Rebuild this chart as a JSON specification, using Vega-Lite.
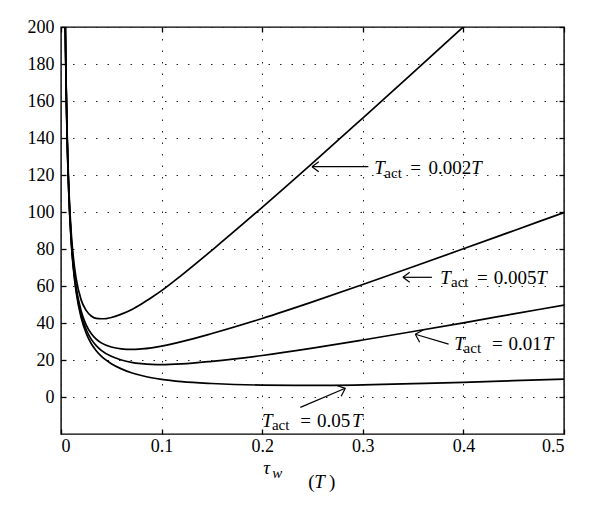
{
  "$schema": "https://vega.github.io/schema/vega-lite/v6.json",
  "width": 503,
  "height": 407,
  "autosize": "none",
  "padding": {"left": 61, "top": 27, "right": 36, "bottom": 79},
  "background": "white",
  "config": {
    "view": {"stroke": "#000", "strokeWidth": 1.4},
    "font": "Liberation Serif",
    "text": {"font": "Liberation Serif", "color": "#000"}
  },
  "datasets": {
    "curves": [
      {"t": 0.004, "v": 214.5, "s": "0.002T"}, {"t": 0.0043, "v": 200, "s": "0.002T"}, {"t": 0.005, "v": 172.5, "s": "0.002T"}, {"t": 0.006, "v": 144.7, "s": "0.002T"}, {"t": 0.007, "v": 124.9, "s": "0.002T"}, {"t": 0.008, "v": 110.3, "s": "0.002T"}, {"t": 0.01, "v": 90, "s": "0.002T"}, {"t": 0.012, "v": 76.8, "s": "0.002T"}, {"t": 0.015, "v": 64.2, "s": "0.002T"}, {"t": 0.02, "v": 52.5, "s": "0.002T"}, {"t": 0.025, "v": 46.8, "s": "0.002T"}, {"t": 0.03, "v": 43.8, "s": "0.002T"}, {"t": 0.035, "v": 42.5, "s": "0.002T"}, {"t": 0.04, "v": 42.3, "s": "0.002T"}, {"t": 0.045, "v": 42.4, "s": "0.002T"}, {"t": 0.05, "v": 43, "s": "0.002T"}, {"t": 0.06, "v": 44.8, "s": "0.002T"}, {"t": 0.07, "v": 47.2, "s": "0.002T"}, {"t": 0.08, "v": 50.3, "s": "0.002T"}, {"t": 0.09, "v": 53.8, "s": "0.002T"}, {"t": 0.1, "v": 57.5, "s": "0.002T"}, {"t": 0.12, "v": 65.9, "s": "0.002T"}, {"t": 0.15, "v": 79.3, "s": "0.002T"}, {"t": 0.2, "v": 102.5, "s": "0.002T"}, {"t": 0.25, "v": 126.4, "s": "0.002T"}, {"t": 0.3, "v": 150.8, "s": "0.002T"}, {"t": 0.35, "v": 175.4, "s": "0.002T"}, {"t": 0.4, "v": 200.1, "s": "0.002T"}, {"t": 0.41, "v": 205, "s": "0.002T"},
      {"t": 0.004, "v": 213.3, "s": "0.005T"}, {"t": 0.0043, "v": 198.6, "s": "0.005T"}, {"t": 0.005, "v": 171, "s": "0.005T"}, {"t": 0.006, "v": 142.9, "s": "0.005T"}, {"t": 0.007, "v": 122.8, "s": "0.005T"}, {"t": 0.008, "v": 107.9, "s": "0.005T"}, {"t": 0.01, "v": 87, "s": "0.005T"}, {"t": 0.012, "v": 73.2, "s": "0.005T"}, {"t": 0.015, "v": 59.7, "s": "0.005T"}, {"t": 0.02, "v": 46.5, "s": "0.005T"}, {"t": 0.025, "v": 39, "s": "0.005T"}, {"t": 0.03, "v": 34.3, "s": "0.005T"}, {"t": 0.035, "v": 31.3, "s": "0.005T"}, {"t": 0.04, "v": 29.25, "s": "0.005T"}, {"t": 0.05, "v": 27, "s": "0.005T"}, {"t": 0.06, "v": 26, "s": "0.005T"}, {"t": 0.07, "v": 25.7, "s": "0.005T"}, {"t": 0.08, "v": 26, "s": "0.005T"}, {"t": 0.09, "v": 26.6, "s": "0.005T"}, {"t": 0.1, "v": 27.5, "s": "0.005T"}, {"t": 0.12, "v": 29.9, "s": "0.005T"}, {"t": 0.15, "v": 34.3, "s": "0.005T"}, {"t": 0.2, "v": 42.45, "s": "0.005T"}, {"t": 0.25, "v": 51.4, "s": "0.005T"}, {"t": 0.3, "v": 60.8, "s": "0.005T"}, {"t": 0.35, "v": 70.4, "s": "0.005T"}, {"t": 0.4, "v": 80.1, "s": "0.005T"}, {"t": 0.45, "v": 89.9, "s": "0.005T"}, {"t": 0.5, "v": 99.7, "s": "0.005T"},
      {"t": 0.004, "v": 212.9, "s": "0.01T"}, {"t": 0.0043, "v": 198.1, "s": "0.01T"}, {"t": 0.005, "v": 170.5, "s": "0.01T"}, {"t": 0.006, "v": 142.3, "s": "0.01T"}, {"t": 0.007, "v": 122.1, "s": "0.01T"}, {"t": 0.008, "v": 107.1, "s": "0.01T"}, {"t": 0.01, "v": 86, "s": "0.01T"}, {"t": 0.012, "v": 72, "s": "0.01T"}, {"t": 0.015, "v": 58.2, "s": "0.01T"}, {"t": 0.02, "v": 44.5, "s": "0.01T"}, {"t": 0.025, "v": 36.5, "s": "0.01T"}, {"t": 0.03, "v": 31.3, "s": "0.01T"}, {"t": 0.035, "v": 27.8, "s": "0.01T"}, {"t": 0.04, "v": 25.25, "s": "0.01T"}, {"t": 0.05, "v": 22, "s": "0.01T"}, {"t": 0.06, "v": 20, "s": "0.01T"}, {"t": 0.07, "v": 18.7, "s": "0.01T"}, {"t": 0.08, "v": 18, "s": "0.01T"}, {"t": 0.09, "v": 17.6, "s": "0.01T"}, {"t": 0.1, "v": 17.5, "s": "0.01T"}, {"t": 0.12, "v": 17.9, "s": "0.01T"}, {"t": 0.15, "v": 19.3, "s": "0.01T"}, {"t": 0.2, "v": 22.45, "s": "0.01T"}, {"t": 0.25, "v": 26.4, "s": "0.01T"}, {"t": 0.3, "v": 30.8, "s": "0.01T"}, {"t": 0.35, "v": 35.4, "s": "0.01T"}, {"t": 0.4, "v": 40.1, "s": "0.01T"}, {"t": 0.45, "v": 44.9, "s": "0.01T"}, {"t": 0.5, "v": 49.7, "s": "0.01T"},
      {"t": 0.004, "v": 212.6, "s": "0.05T"}, {"t": 0.0043, "v": 197.8, "s": "0.05T"}, {"t": 0.005, "v": 170.1, "s": "0.05T"}, {"t": 0.006, "v": 141.8, "s": "0.05T"}, {"t": 0.007, "v": 121.5, "s": "0.05T"}, {"t": 0.008, "v": 106.5, "s": "0.05T"}, {"t": 0.01, "v": 85.2, "s": "0.05T"}, {"t": 0.012, "v": 71, "s": "0.05T"}, {"t": 0.015, "v": 57, "s": "0.05T"}, {"t": 0.02, "v": 42.9, "s": "0.05T"}, {"t": 0.025, "v": 34.5, "s": "0.05T"}, {"t": 0.03, "v": 28.9, "s": "0.05T"}, {"t": 0.035, "v": 25, "s": "0.05T"}, {"t": 0.04, "v": 22.05, "s": "0.05T"}, {"t": 0.05, "v": 18, "s": "0.05T"}, {"t": 0.06, "v": 15.2, "s": "0.05T"}, {"t": 0.07, "v": 13.1, "s": "0.05T"}, {"t": 0.08, "v": 11.6, "s": "0.05T"}, {"t": 0.09, "v": 10.4, "s": "0.05T"}, {"t": 0.1, "v": 9.5, "s": "0.05T"}, {"t": 0.12, "v": 8.3, "s": "0.05T"}, {"t": 0.15, "v": 7.3, "s": "0.05T"}, {"t": 0.2, "v": 6.45, "s": "0.05T"}, {"t": 0.25, "v": 6.3, "s": "0.05T"}, {"t": 0.3, "v": 6.6, "s": "0.05T"}, {"t": 0.35, "v": 7.2, "s": "0.05T"}, {"t": 0.4, "v": 7.9, "s": "0.05T"}, {"t": 0.45, "v": 8.8, "s": "0.05T"}, {"t": 0.5, "v": 9.7, "s": "0.05T"}
    ],
    "arrows": [
      {"x": 0.3055, "y": 124.5, "x2": 0.2495, "y2": 124.5},
      {"x": 0.2495, "y": 124.5, "x2": 0.2562, "y2": 127.2},
      {"x": 0.2495, "y": 124.5, "x2": 0.2562, "y2": 121.8},
      {"x": 0.3687, "y": 64.7, "x2": 0.3399, "y2": 64.7},
      {"x": 0.3399, "y": 64.7, "x2": 0.3466, "y2": 67.4},
      {"x": 0.3399, "y": 64.7, "x2": 0.3466, "y2": 62.0},
      {"x": 0.3853, "y": 28.6, "x2": 0.3522, "y2": 33.9},
      {"x": 0.3522, "y": 33.9, "x2": 0.3565, "y2": 29.6},
      {"x": 0.3522, "y": 33.9, "x2": 0.3600, "y2": 36.2},
      {"x": 0.2379, "y": -5.6, "x2": 0.2826, "y2": 4.7},
      {"x": 0.2826, "y": 4.7, "x2": 0.2741, "y2": 6.2},
      {"x": 0.2826, "y": 4.7, "x2": 0.2785, "y2": 0.4}
    ],
    "italicMain": [
      {"x": 0.3114, "y": 120.5, "text": "T"}, {"x": 0.4078, "y": 120.5, "text": "T"},
      {"x": 0.3770, "y": 60.9, "text": "T"}, {"x": 0.4725, "y": 60.9, "text": "T"},
      {"x": 0.3910, "y": 25.4, "text": "T"}, {"x": 0.4790, "y": 25.4, "text": "T"},
      {"x": 0.1998, "y": -16.4, "text": "T"}, {"x": 0.2893, "y": -16.4, "text": "T"},
      {"x": 0.2011, "y": -41.8, "text": "τ"}, {"x": 0.2518, "y": -49.2, "text": "T"}
    ],
    "normalMain": [
      {"x": 0.3472, "y": 120.5, "text": "="}, {"x": 0.3654, "y": 120.5, "text": "0.002"},
      {"x": 0.4135, "y": 60.9, "text": "="}, {"x": 0.4301, "y": 60.9, "text": "0.005"},
      {"x": 0.4285, "y": 25.4, "text": "="}, {"x": 0.4449, "y": 25.4, "text": "0.01"},
      {"x": 0.2379, "y": -16.4, "text": "="}, {"x": 0.2545, "y": -16.4, "text": "0.05"},
      {"x": 0.2458, "y": -49.2, "text": "("},
      {"x": 0.2665, "y": -49.2, "text": ")"}
    ],
    "subs": [
      {"x": 0.3214, "y": 118.4, "text": "act"},
      {"x": 0.3877, "y": 59.5, "text": "act"},
      {"x": 0.4002, "y": 23.8, "text": "act"},
      {"x": 0.2097, "y": -17.8, "text": "act"}
    ],
    "subItalic": [
      {"x": 0.2100, "y": -43.6, "text": "w"}
    ]
  },
  "resolve": {"axis": {"x": "independent", "y": "independent"}},
  "layer": [
    {
      "data": {"name": "curves"},
      "mark": {"type": "line", "color": "#000", "strokeWidth": 1.7, "clip": true, "interpolate": "monotone"},
      "encoding": {
        "x": {"field": "t", "type": "quantitative", "scale": {"domain": [0, 0.5], "nice": false, "zero": false},
          "axis": {"orient": "bottom", "values": [0, 0.1, 0.2, 0.3, 0.4, 0.5], "format": "~g", "domain": false, "grid": true, "gridDash": [1.5, 10], "gridColor": "#222", "gridWidth": 1, "tickSize": -5, "tickColor": "#000", "tickWidth": 1.3, "labelFont": "Liberation Serif", "labelFontSize": 18, "labelColor": "#000", "labelPadding": 8, "title": null}},
        "y": {"field": "v", "type": "quantitative", "scale": {"domain": [-20, 200], "nice": false, "zero": false},
          "axis": {"orient": "left", "values": [0, 20, 40, 60, 80, 100, 120, 140, 160, 180, 200], "domain": false, "grid": true, "gridDash": [1.5, 10], "gridColor": "#222", "gridWidth": 1, "tickSize": -5, "tickColor": "#000", "tickWidth": 1.3, "labelFont": "Liberation Serif", "labelFontSize": 18, "labelColor": "#000", "labelPadding": 12, "title": null}},
        "detail": {"field": "s", "type": "nominal"}
      }
    },
    {
      "data": {"name": "arrows"},
      "mark": {"type": "rule", "color": "#000", "strokeWidth": 1.2},
      "encoding": {
        "x": {"field": "x", "type": "quantitative", "scale": {"domain": [0, 0.5], "nice": false, "zero": false},
          "axis": {"orient": "top", "values": [0, 0.1, 0.2, 0.3, 0.4, 0.5], "labels": false, "domain": false, "grid": false, "tickSize": -5, "tickColor": "#000", "tickWidth": 1.3, "title": null}},
        "y": {"field": "y", "type": "quantitative", "scale": {"domain": [-20, 200], "nice": false, "zero": false},
          "axis": {"orient": "right", "values": [0, 20, 40, 60, 80, 100, 120, 140, 160, 180, 200], "labels": false, "domain": false, "grid": false, "tickSize": -5, "tickColor": "#000", "tickWidth": 1.3, "title": null}},
        "x2": {"field": "x2"},
        "y2": {"field": "y2"}
      }
    },
    {
      "data": {"name": "italicMain"},
      "mark": {"type": "text", "font": "Liberation Serif", "fontStyle": "italic", "fontSize": 19, "align": "left", "baseline": "alphabetic", "color": "#000"},
      "encoding": {
        "x": {"field": "x", "type": "quantitative", "scale": {"domain": [0, 0.5], "nice": false, "zero": false}, "axis": null},
        "y": {"field": "y", "type": "quantitative", "scale": {"domain": [-20, 200], "nice": false, "zero": false}, "axis": null},
        "text": {"field": "text"}
      }
    },
    {
      "data": {"name": "normalMain"},
      "mark": {"type": "text", "font": "Liberation Serif", "fontSize": 19, "align": "left", "baseline": "alphabetic", "color": "#000"},
      "encoding": {
        "x": {"field": "x", "type": "quantitative", "scale": {"domain": [0, 0.5], "nice": false, "zero": false}, "axis": null},
        "y": {"field": "y", "type": "quantitative", "scale": {"domain": [-20, 200], "nice": false, "zero": false}, "axis": null},
        "text": {"field": "text"}
      }
    },
    {
      "data": {"name": "subs"},
      "mark": {"type": "text", "font": "Liberation Serif", "fontSize": 15, "align": "left", "baseline": "alphabetic", "color": "#000"},
      "encoding": {
        "x": {"field": "x", "type": "quantitative", "scale": {"domain": [0, 0.5], "nice": false, "zero": false}, "axis": null},
        "y": {"field": "y", "type": "quantitative", "scale": {"domain": [-20, 200], "nice": false, "zero": false}, "axis": null},
        "text": {"field": "text"}
      }
    },
    {
      "data": {"name": "subItalic"},
      "mark": {"type": "text", "font": "Liberation Serif", "fontStyle": "italic", "fontSize": 15, "align": "left", "baseline": "alphabetic", "color": "#000"},
      "encoding": {
        "x": {"field": "x", "type": "quantitative", "scale": {"domain": [0, 0.5], "nice": false, "zero": false}, "axis": null},
        "y": {"field": "y", "type": "quantitative", "scale": {"domain": [-20, 200], "nice": false, "zero": false}, "axis": null},
        "text": {"field": "text"}
      }
    }
  ]
}
